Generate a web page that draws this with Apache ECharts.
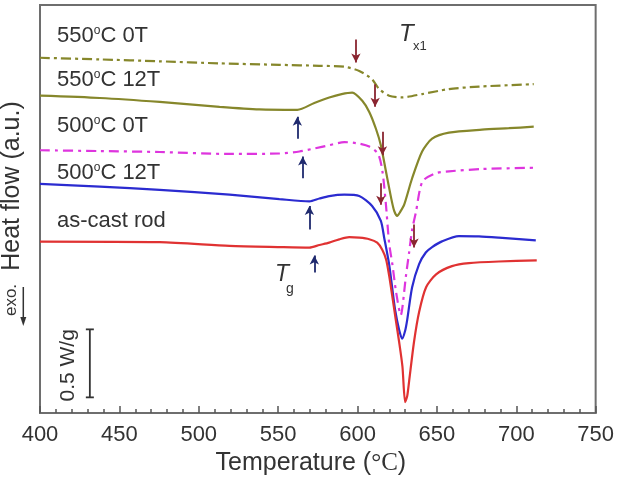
<!DOCTYPE html>
<html>
<head>
<meta charset="utf-8">
<script src="https://cdn.jsdelivr.net/npm/echarts@6/dist/echarts.min.js"></script>
<style>
  html, body { margin: 0; padding: 0; background: #fff; }
  #dsc { width: 617px; height: 481px; }
</style>
</head>
<body>
<div id="dsc"></div>
<script>
// DSC curves, [temperature (°C), heat flow offset (W/g)]
var curve550_0T = [[400,2.612],[437.7,2.600],[475.4,2.586],[513.1,2.571],[550.8,2.560],[575.9,2.553],[591.7,2.546],[601.1,2.515],[609.2,2.454],[613.6,2.382],[619.9,2.333],[628.1,2.321],[640.7,2.345],[657.6,2.382],[676.5,2.400],[711,2.418]];
var curve550_12T = [[400,2.333],[437.7,2.316],[475.4,2.287],[513.1,2.251],[538.2,2.232],[562.1,2.229],[572.8,2.280],[582.2,2.320],[590,2.345],[596.7,2.356],[603,2.296],[607.4,2.214],[611.6,2.090],[614.7,1.969],[617.9,1.777],[621.2,1.580],[623.1,1.486],[625,1.449],[626.9,1.479],[629.4,1.532],[634.4,1.726],[640.7,1.923],[647,2.017],[657.6,2.061],[678.4,2.083],[695.3,2.094],[711,2.105]];
var curve500_0T = [[400,1.932],[437.7,1.926],[475.4,1.919],[519.4,1.905],[550.8,1.908],[563.4,1.923],[572.8,1.945],[582.2,1.969],[591.7,1.992],[601.1,1.981],[607.4,1.959],[613,1.905],[615.7,1.777],[617.9,1.532],[619.9,1.250],[622,1.090],[624.3,0.889],[627.3,0.721],[628.3,0.779],[630.4,0.998],[632.5,1.180],[634.4,1.347],[636.7,1.471],[640.9,1.702],[649.3,1.763],[657.6,1.777],[678.4,1.794],[712.9,1.804]];
var curve500_12T = [[400,1.685],[437.7,1.664],[475.4,1.641],[519.4,1.605],[550.8,1.573],[569.7,1.556],[576,1.577],[582.2,1.595],[591.7,1.605],[601.1,1.595],[609.2,1.522],[614.7,1.413],[616.8,1.289],[619.9,1.095],[621.8,0.925],[623.7,0.757],[626.2,0.612],[628.1,0.546],[630,0.605],[631.3,0.685],[634.4,0.925],[638.8,1.095],[643,1.180],[647,1.220],[653.2,1.262],[663.9,1.300],[676.5,1.298],[689,1.289],[712.3,1.269]];
var curveAsCast = [[400,1.260],[475.4,1.256],[519.4,1.229],[550.8,1.220],[569.7,1.216],[576,1.235],[582.2,1.253],[588.5,1.277],[594.8,1.293],[601.1,1.289],[607.4,1.278],[612.4,1.253],[615.5,1.202],[618,1.129],[619.9,1.012],[621.8,0.867],[624.1,0.685],[626.2,0.524],[628.3,0.342],[630,0.080],[631.3,0.124],[632.5,0.233],[635.6,0.524],[638.8,0.743],[643.2,0.925],[649.5,1.020],[659.5,1.080],[670.2,1.102],[689,1.114],[712.9,1.122]];

// arrows: [temperature, from, to]
var tgArrows = [[562.1,2.017,2.178],[565.5,1.726,1.886],[569.7,1.350,1.522],[572.8,1.034,1.158]];
var txArrows = [[599.0,2.746,2.578],[611.1,2.418,2.251],[615.7,2.068,1.896],[614.7,1.690,1.532],[635.6,1.386,1.216]];

// scale bar: [temperature, bottom, top] = 0.5 W/g
var scaleBar = [[431.4,0.115,0.615]];

var sampleNames = ['550{s|o}C 0T', '550{s|o}C 12T', '500{s|o}C 0T', '500{s|o}C 12T', 'as-cast rod'];
var labelY = [36, 80, 126, 173, 221];

var olive = '#86872b', magenta = '#de35de', blue = '#2b2bd0', red = '#e03232';
var txt = '#333';

function arrowPairs(list) {
  return list.map(function (a) {
    return [{ coord: [a[0], a[1]] }, { coord: [a[0], a[2]] }];
  });
}

var myChart = echarts.init(document.getElementById('dsc'));

var graphics = [];
sampleNames.forEach(function (name, i) {
  graphics.push({
    type: 'text', left: 57, top: labelY[i] - 11,
    style: {
      text: name, fill: txt, fontSize: 22, fontFamily: 'Liberation Sans',
      rich: { s: { fontSize: 12, fill: txt, fontFamily: 'Liberation Sans', verticalAlign: 'top', lineHeight: 22 } }
    }
  });
});
graphics.push(
  { type: 'text', x: 12, y: 186, rotation: Math.PI / 2,
    style: { text: 'Heat flow (a.u.)', fill: txt, fontSize: 25, fontFamily: 'Liberation Sans', align: 'center', verticalAlign: 'middle' } },
  { type: 'text', x: 11, y: 300, rotation: Math.PI / 2,
    style: { text: 'exo.', fill: txt, fontSize: 17, fontFamily: 'Liberation Sans', align: 'center', verticalAlign: 'middle' } },
  { type: 'line', shape: { x1: 23.3, y1: 287, x2: 23.3, y2: 319 }, style: { stroke: txt, lineWidth: 1.5 } },
  { type: 'polygon', shape: { points: [[20.3, 317], [26.3, 317], [23.3, 326]] }, style: { fill: txt } },
  { type: 'text', x: 399, y: 34,
    style: { text: 'T', fill: txt, fontSize: 24, fontStyle: 'italic', fontFamily: 'Liberation Sans', verticalAlign: 'middle' } },
  { type: 'text', x: 413, y: 46,
    style: { text: 'x1', fill: txt, fontSize: 13, fontFamily: 'Liberation Sans', verticalAlign: 'middle' } },
  { type: 'text', x: 275, y: 275,
    style: { text: 'T', fill: txt, fontSize: 23, fontStyle: 'italic', fontFamily: 'Liberation Sans', verticalAlign: 'middle' } },
  { type: 'text', x: 286, y: 289,
    style: { text: 'g', fill: txt, fontSize: 14, fontFamily: 'Liberation Sans', verticalAlign: 'middle' } }
);

var option = {
  animation: false,
  backgroundColor: '#fff',
  grid: { left: 40, right: 20, top: 5, bottom: 64, show: true, borderColor: '#6e6e6e', borderWidth: 2 },
  xAxis: {
    type: 'value', min: 400, max: 750, interval: 50,
    name: 'Temperature ({c|°C})', nameLocation: 'middle', nameGap: 38,
    nameTextStyle: {
      color: txt, fontSize: 25, fontFamily: 'Liberation Sans', padding: [0, 14, 0, 0],
      rich: { c: { color: txt, fontSize: 25, fontFamily: 'Liberation Serif' } }
    },
    axisLine: { show: true, lineStyle: { color: '#6e6e6e', width: 2 } },
    axisTick: { show: true, inside: true, length: 7, lineStyle: { color: '#555', width: 1.5 } },
    minorTick: { show: true, splitNumber: 5, length: 4, lineStyle: { color: '#555', width: 1.5 } },
    axisLabel: { color: txt, fontSize: 22, fontFamily: 'Liberation Sans', margin: 11 },
    splitLine: { show: false }
  },
  yAxis: {
    type: 'value', min: 0, max: 3,
    axisLine: { show: false }, axisTick: { show: false },
    axisLabel: { show: false }, splitLine: { show: false }
  },
  graphic: graphics,
  series: [
    { type: 'line', data: curve550_0T, showSymbol: false, smooth: 0.25,
      lineStyle: { color: olive, width: 2.2, type: [10, 4, 3, 4] } },
    { type: 'line', data: curve550_12T, showSymbol: false, smooth: 0.25,
      lineStyle: { color: olive, width: 2.2 } },
    { type: 'line', data: curve500_0T, showSymbol: false, smooth: 0.25,
      lineStyle: { color: magenta, width: 2.2, type: [10, 5, 3, 5] } },
    { type: 'line', data: curve500_12T, showSymbol: false, smooth: 0.25,
      lineStyle: { color: blue, width: 2.2 } },
    { type: 'line', data: curveAsCast, showSymbol: false, smooth: 0.25,
      lineStyle: { color: red, width: 2.2 },
      markLine: {
        silent: true, symbol: ['none', 'arrow'], symbolSize: [7, 9],
        label: { show: false },
        lineStyle: { color: '#1f2a6e', width: 1.8, type: 'solid' },
        data: arrowPairs(tgArrows)
      }
    },
    { type: 'line', data: [], showSymbol: false,
      markLine: {
        silent: true, symbol: ['none', 'arrow'], symbolSize: [7, 9],
        label: { show: false },
        lineStyle: { color: '#8a2530', width: 1.8, type: 'solid' },
        data: arrowPairs(txArrows)
      }
    },
    { type: 'custom', data: scaleBar, silent: true,
      renderItem: function (params, api) {
        var bot = api.coord([api.value(0), api.value(1)]);
        var top = api.coord([api.value(0), api.value(2)]);
        var st = { stroke: '#333', lineWidth: 1.8 };
        return {
          type: 'group',
          children: [
            { type: 'line', shape: { x1: top[0], y1: top[1], x2: bot[0], y2: bot[1] }, style: st },
            { type: 'line', shape: { x1: top[0] - 4, y1: top[1], x2: top[0] + 4, y2: top[1] }, style: st },
            { type: 'line', shape: { x1: bot[0] - 4, y1: bot[1], x2: bot[0] + 4, y2: bot[1] }, style: st },
            { type: 'text', x: top[0] - 22, y: (top[1] + bot[1]) / 2 + 2, rotation: Math.PI / 2,
              style: { text: '0.5 W/g', fill: txt, fontSize: 21, fontFamily: 'Liberation Sans', align: 'center', verticalAlign: 'middle' } }
          ]
        };
      }
    }
  ]
};

myChart.setOption(option);
</script>
</body>
</html>
